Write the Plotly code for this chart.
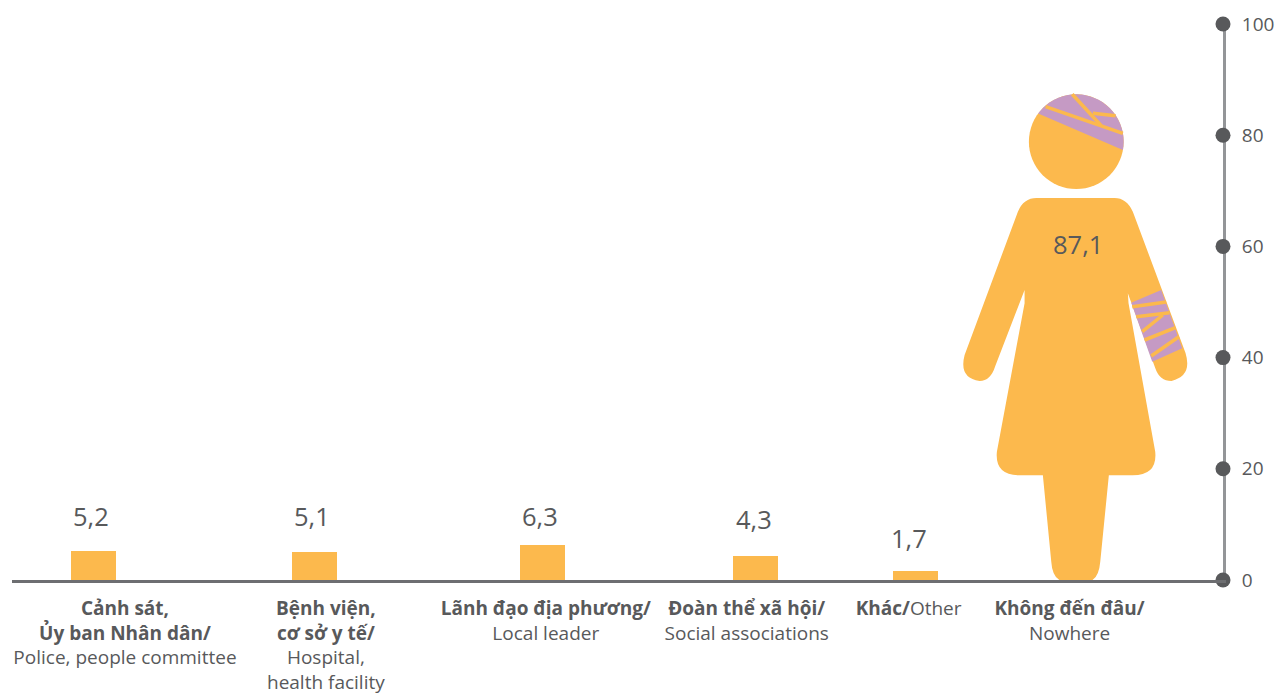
import math
import plotly.graph_objects as go

# ---- data ----
CATEGORIES_VI = ["Cảnh sát,<br>Ủy ban Nhân dân/", "Bệnh viện,<br>cơ sở y tế/", "Lãnh đạo địa phương/",
                 "Đoàn thể xã hội/", "Khác/", "Không đến đâu/"]
CATEGORIES_EN = ["Police, people committee", "Hospital,<br>health facility", "Local leader",
                 "Social associations", "Other", "Nowhere"]
VALUES = [5.2, 5.1, 6.3, 4.3, 1.7, 87.1]
VALUE_LABELS = ["5,2", "5,1", "6,3", "4,3", "1,7", "87,1"]
Y_TICKS = [0, 20, 40, 60, 80, 100]

# ---- layout (x axis runs in page pixels) ----
BAR_X = [93.5, 314.5, 542.5, 755.5, 915.5, 1076]
TICK_X = [125, 326, 546, 747, 909, 1070]
LABEL_X = [91.5, 312.5, 540.5, 754.5, 909, 1078.5]
LABEL_PY = [515.5, 515.5, 515.5, 518.5, 537.5, 243.5]
L, R, T, B = 12, 1223.5, 24, 580
ORANGE, PURPLE, DARK, AXIS_V, AXIS_H = "#fcb94d", "#c59ac4", "#58595b", "#939598", "#6d6e71"
FONT = "Open Sans"


def yd(py):
    return (B - py) / (B - T) * 100


def pt(p):
    return f"{p[0]:.2f},{yd(p[1]):.3f}"


def poly(points):
    return "M" + " L".join(pt(p) for p in points) + " Z"


def arc(cx, cy, r, a0, a1, n=64):
    return [(cx + r * math.cos(math.radians(a0 + (a1 - a0) * i / n)),
             cy + r * math.sin(math.radians(a0 + (a1 - a0) * i / n))) for i in range(n + 1)]


def qseq(start, segs):
    s = "M" + pt(start)
    for seg in segs:
        if len(seg) == 1:
            s += " L" + pt(seg[0])
        else:
            s += " Q" + pt(seg[0]) + " " + pt(seg[1])
    return s + " Z"


# pictogram outline, in page pixels
HEAD = (1076.7, 141.7, 47.4)
BODY = qseq((1037, 198), [
    [(1115, 198)],
    [(1127, 198), (1133.3, 211.7)],
    [(1186, 353)],
    [(1193, 376), (1172, 381)],
    [(1160, 381), (1155.7, 368)],
    [(1128.3, 293.3)],
    [(1129, 303.3)],
    [(1155.7, 451.7)],
    [(1158, 475.3), (1133.3, 475.3)],
    [(1109.3, 475.3)],
    [(1100.7, 561.7)],
    [(1099, 581.7), (1086.7, 581.7)],
    [(1066.7, 581.7)],
    [(1053, 581.7), (1051.7, 561.7)],
    [(1043.3, 475.3)],
    [(1020, 475.3)],
    [(995, 475.3), (997.3, 451.7)],
    [(1025, 303.3)],
    [(1025, 290)],
    [(995.7, 366)],
    [(991, 381), (980, 381)],
    [(959, 378), (965, 355)],
    [(1018.3, 211.7)],
    [(1024, 198), (1037, 198)],
])
a0 = math.degrees(math.atan2(113.3 - HEAD[1], 1038.3 - HEAD[0]))
a1 = math.degrees(math.atan2(150 - HEAD[1], 1124 - HEAD[0]))
HEAD_WRAP = arc(HEAD[0], HEAD[1], HEAD[2], a0 - 360 if a0 > 0 else a0, a1)
ARM_WRAP = [(1131.7, 302.7), (1161.7, 290), (1182.7, 348.3), (1152.7, 361.7)]
STRIPES = [
    ((1046, 106.7), (1123.3, 133.3)),
    ((1072.7, 94.3), (1101.7, 125.7)),
    ((1093.3, 113.3), (1116, 115.7)),
    ((1132.7, 306.7), (1166.7, 302)),
    ((1136.7, 316.7), (1170, 312.7)),
    ((1142.7, 331.7), (1163.3, 315)),
    ((1145, 340), (1176, 327.7)),
    ((1151.7, 356), (1179.3, 336.7)),
]

shapes = [
    dict(type="path", path=BODY, fillcolor=ORANGE, line_width=0, xref="x", yref="y", layer="above"),
    dict(type="path", path=poly(arc(HEAD[0], HEAD[1], HEAD[2], 0, 360)), fillcolor=ORANGE, line_width=0,
         xref="x", yref="y", layer="above"),
    dict(type="path", path=poly(HEAD_WRAP), fillcolor=PURPLE, line_width=0, xref="x", yref="y", layer="above"),
    dict(type="path", path=poly(ARM_WRAP), fillcolor=PURPLE, line_width=0, xref="x", yref="y", layer="above"),
]
for p, q in STRIPES:
    shapes.append(dict(type="line", x0=p[0], y0=yd(p[1]), x1=q[0], y1=yd(q[1]), xref="x", yref="y",
                       line=dict(color=ORANGE, width=3.5), layer="above"))

fig = go.Figure()
fig.add_trace(go.Bar(x=BAR_X[:5], y=VALUES[:5], width=45, marker=dict(color=ORANGE, line_width=0),
                     hoverinfo="skip"))
fig.add_trace(go.Scatter(x=[R] * len(Y_TICKS), y=Y_TICKS, mode="markers", cliponaxis=False,
                         marker=dict(color=DARK, size=15), hoverinfo="skip"))

annotations = [
    dict(x=x, y=yd(py), text=t, showarrow=False, xanchor="center", yanchor="middle",
         font=dict(family=FONT, size=25.5, color=DARK))
    for x, py, t in zip(LABEL_X, LABEL_PY, VALUE_LABELS)
]

ticktext = [f"<b>{v}</b><br>{e}" if i != 4 else f"<b>{v}</b>{e}"
            for i, (v, e) in enumerate(zip(CATEGORIES_VI, CATEGORIES_EN))]

fig.update_layout(
    width=1276, height=693, autosize=False,
    margin=dict(l=L, r=1276 - R, t=T, b=693 - B, pad=0),
    paper_bgcolor="white", plot_bgcolor="white", showlegend=False, bargap=0,
    shapes=shapes, annotations=annotations,
    font=dict(family=FONT, color=DARK),
    xaxis=dict(range=[L, R], showgrid=False, zeroline=False, showline=True, linecolor=AXIS_H, linewidth=3,
               tickmode="array", tickvals=TICK_X, ticktext=ticktext, ticks="", ticklabelstandoff=9,
               tickfont=dict(family=FONT, size=19, color=DARK), tickangle=0, automargin=False, layer="above traces"),
    yaxis=dict(range=[0, 100], side="right", showgrid=False, zeroline=False, showline=True, linecolor=AXIS_V,
               linewidth=3, tickmode="array", tickvals=Y_TICKS, ticks="", ticklabelstandoff=12,
               tickfont=dict(family=FONT, size=19, color=DARK), automargin=False, layer="below traces"),
)
fig.write_html("out.html", config=dict(displayModeBar=False),
               post_script="document.body.style.margin='0';document.documentElement.style.overflow='hidden';")
